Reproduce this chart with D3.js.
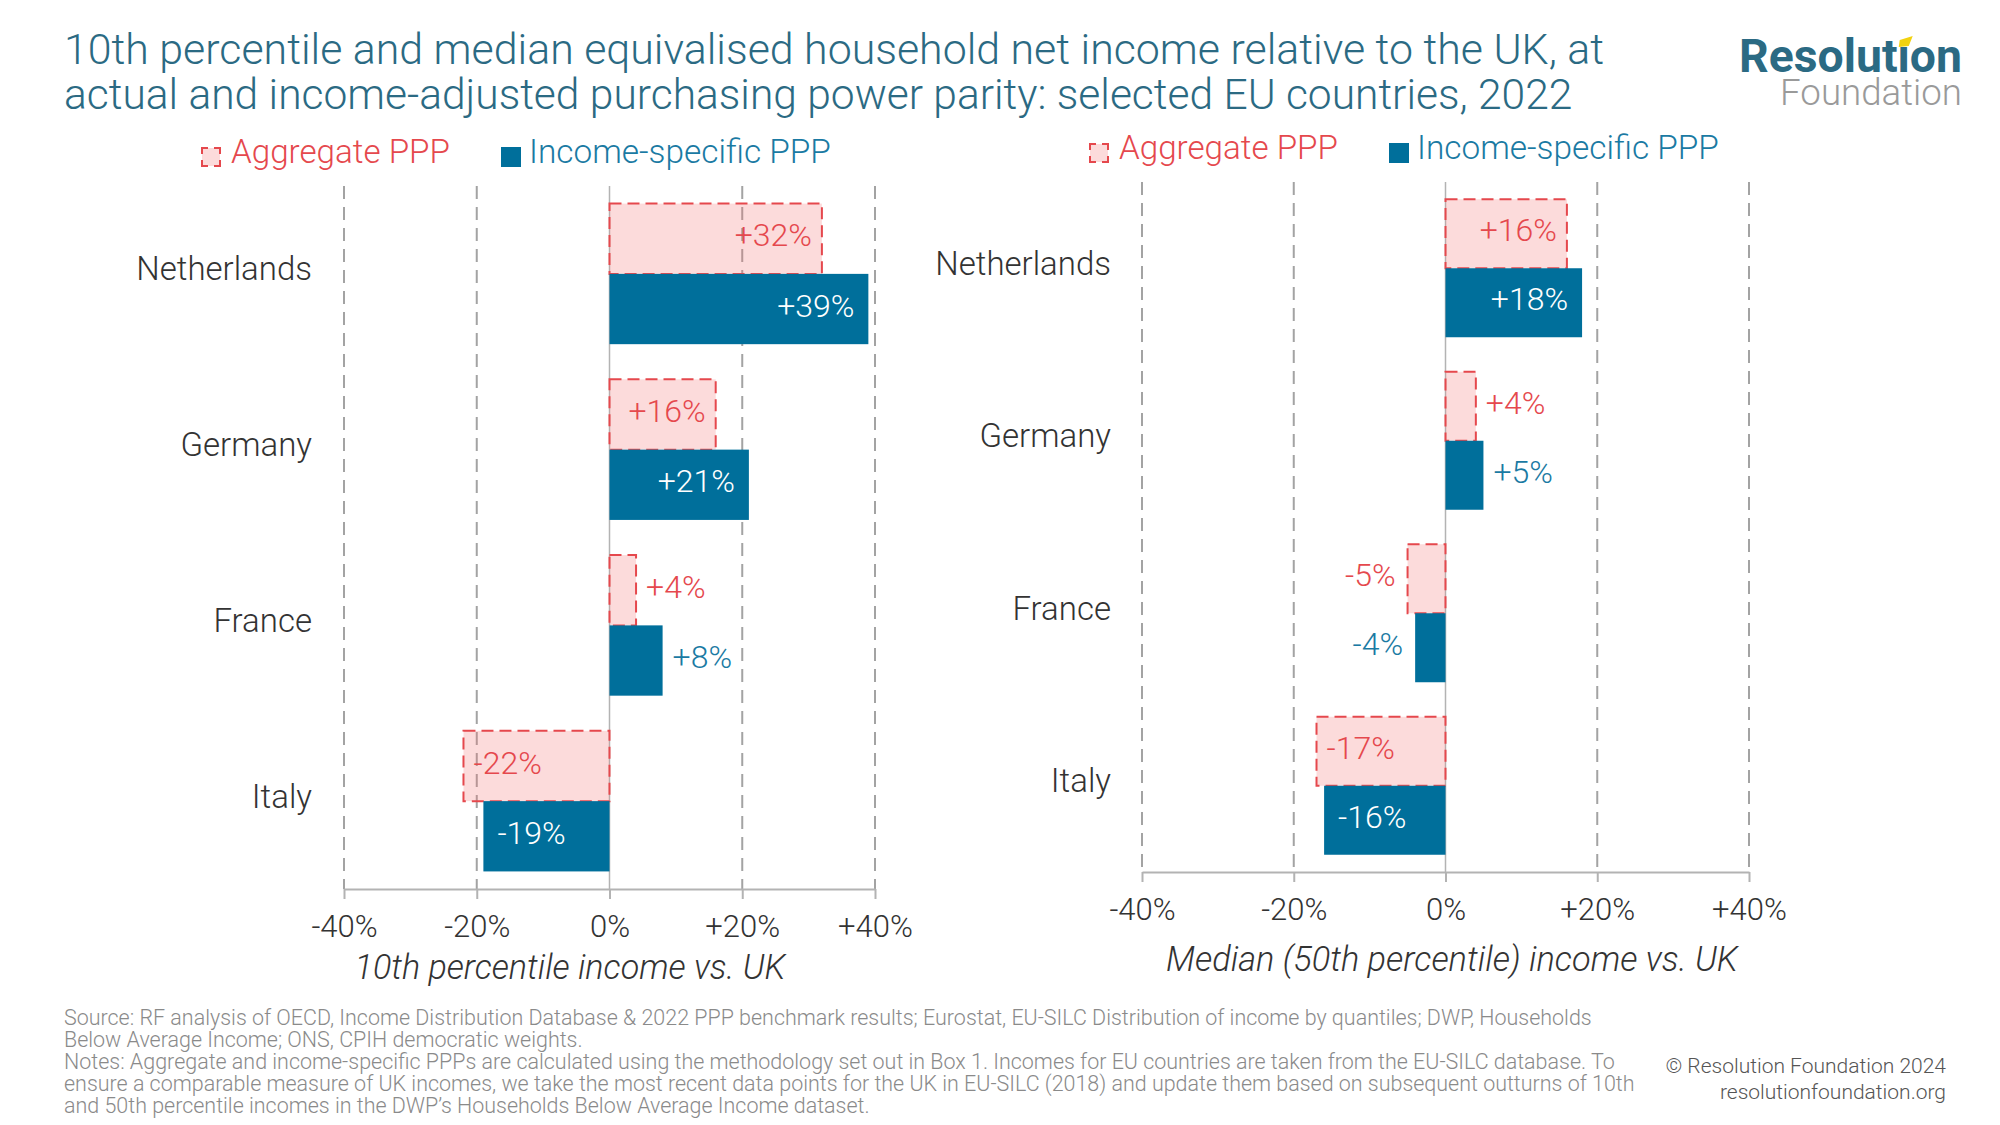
<!DOCTYPE html>
<html>
<head>
<meta charset="utf-8">
<script src="https://cdn.jsdelivr.net/npm/d3@7"></script>
<style>
  html, body { margin: 0; padding: 0; background: #fff; }
  svg { display: block; font-family: Roboto, "Noto Sans", sans-serif; }
</style>
</head>
<body>
<svg id="chart" width="2000" height="1125"></svg>
<script>
// ---------------- data ----------------
const countries = ["Netherlands", "Germany", "France", "Italy"];
const p10Aggregate = [32, 16, 4, -22];
const p10IncomeSpecific = [39, 21, 8, -19];
const p50Aggregate = [16, 4, -5, -17];
const p50IncomeSpecific = [18, 5, -4, -16];
const tickValues = [-40, -20, 0, 20, 40];
const tickLabels = ["-40%", "-20%", "0%", "+20%", "+40%"];
const seriesNames = ["Aggregate PPP", "Income-specific PPP"];
const axisTitles = ["10th percentile income vs. UK", "Median (50th percentile) income vs. UK"];
const titleLines = [
  "10th percentile and median equivalised household net income relative to the UK, at",
  "actual and income-adjusted purchasing power parity: selected EU countries, 2022"
];
const logoLines = ["Resolution", "Foundation"];
const footerLines = [
  "Source: RF analysis of OECD,  Income Distribution Database & 2022 PPP benchmark results; Eurostat, EU-SILC Distribution of income by quantiles; DWP, Households",
  "Below Average Income; ONS, CPIH democratic weights.",
  "Notes: Aggregate and income-specific PPPs are calculated using the methodology set out in Box 1. Incomes for EU countries are taken from the EU-SILC database. To",
  "ensure a comparable measure of UK incomes, we take the most recent data points for the UK in EU-SILC (2018) and update them based on subsequent outturns of 10th",
  "and 50th percentile incomes in the DWP\u2019s Households Below Average Income dataset."
];
const creditLines = ["\u00a9 Resolution Foundation 2024", "resolutionfoundation.org"];

// ---------------- styles ----------------
const C = {
  title: "#2b6a83",
  red: "#e5484d",
  pink: "rgba(243,110,110,0.25)",
  blue: "#006f9b",
  blueText: "#1a7aa3",
  grid: "#a3a3a3",
  axis: "#b3b3b3",
  text: "#333333",
  foot: "#8a8a8a",
  credit: "#555555",
  logoGrey: "#9a9a9a",
  yellow: "#f2d20f"
};

const svg = d3.select("#chart");

function fitWidth(sel, target) {
  const node = sel.node();
  const fs = parseFloat(sel.attr("font-size"));
  const w = node.getComputedTextLength();
  sel.attr("font-size", (fs * target / w).toFixed(2));
}

// ---------------- title (one text, two lines) ----------------
const titleLayout = [{ x: 64, y: 64, w: 1540 }, { x: 64, y: 109, w: 1509 }];
const titleText = svg.append("text").attr("font-weight", 300).attr("fill", C.title);
titleLines.forEach((t, i) => {
  const s = titleText.append("tspan")
    .attr("x", titleLayout[i].x).attr("y", titleLayout[i].y)
    .attr("font-size", 40).text(t);
  fitWidth(s, titleLayout[i].w);
});

// ---------------- logo (one text, two lines) ----------------
const logo = svg.append("g");
const logoText = logo.append("text").attr("text-anchor", "end");
const res = logoText.append("tspan").attr("x", 1962).attr("y", 72)
  .attr("font-size", 44).attr("font-weight", 700).attr("fill", C.title).text(logoLines[0]);
fitWidth(res, 223);
const fnd = logoText.append("tspan").attr("x", 1962).attr("y", 105)
  .attr("font-size", 34).attr("font-weight", 300).attr("fill", C.logoGrey).text(logoLines[1]);
fitWidth(fnd, 182);
(function () {
  const ext = logoText.node().getExtentOfChar(7);
  const cx = ext.x + ext.width / 2;
  logo.append("rect").attr("x", ext.x - 1).attr("y", ext.y).attr("width", ext.width + 2)
    .attr("height", 72 - 26 - ext.y).attr("fill", "#fff");
  logo.append("path")
    .attr("d", `M${cx - 5},${47} L${cx - 4},${40} L${cx + 9},${36} L${cx + 5},${46} Z`)
    .attr("fill", C.yellow);
})();

// ---------------- panels ----------------
const panels = [
  { agg: p10Aggregate, inc: p10IncomeSpecific, xr: [344, 875], yr: [186, 889],
    labelX: 312, title: axisTitles[0], titleX: 570, titleW: 431, titleY: 979, tickY: 937,
    legX: 201, legY: 147 },
  { agg: p50Aggregate, inc: p50IncomeSpecific, xr: [1142, 1749], yr: [182, 872],
    labelX: 1111, title: axisTitles[1], titleX: 1452, titleW: 572, titleY: 971, tickY: 920,
    legX: 1089, legY: 143 }
];

panels.forEach(p => {
  const g = svg.append("g");
  const x = d3.scaleLinear().domain([-40, 40]).range(p.xr);
  const y = d3.scaleBand().domain(countries).range(p.yr).paddingInner(0.2).paddingOuter(0.1);
  const sub = d3.scaleBand().domain(["agg", "inc"]).range([0, y.bandwidth()]);

  // legend
  const lg = g.append("g").attr("transform", `translate(${p.legX},${p.legY})`);
  lg.append("rect").attr("x", 1).attr("y", 1).attr("width", 18).attr("height", 18)
    .attr("fill", C.pink).attr("stroke", C.red).attr("stroke-width", 2)
    .attr("stroke-dasharray", "12 6").attr("stroke-dashoffset", 6);
  const l1 = lg.append("text").attr("x", 30).attr("y", 16).attr("font-size", 32)
    .attr("font-weight", 300).attr("fill", C.red).text(seriesNames[0]);
  fitWidth(l1, 219);
  lg.append("rect").attr("x", 300).attr("y", 0).attr("width", 20).attr("height", 20)
    .attr("fill", C.blue);
  const l2 = lg.append("text").attr("x", 328).attr("y", 16).attr("font-size", 32)
    .attr("font-weight", 300).attr("fill", C.blueText).text(seriesNames[1]);
  fitWidth(l2, 302);

  // gridlines
  g.append("g").selectAll("line").data(tickValues.filter(v => v !== 0)).join("line")
    .attr("x1", d => x(d)).attr("x2", d => x(d))
    .attr("y1", p.yr[0]).attr("y2", p.yr[1])
    .attr("stroke", C.grid).attr("stroke-width", 2).attr("stroke-dasharray", "13 8");
  // zero line
  g.append("line").attr("x1", x(0)).attr("x2", x(0)).attr("y1", p.yr[0]).attr("y2", p.yr[1])
    .attr("stroke", C.axis).attr("stroke-width", 1.5);

  // axis
  const axis = d3.axisBottom(x).tickValues(tickValues)
    .tickFormat((d, i) => tickLabels[i]).tickSize(10).tickSizeOuter(0).tickPadding(14);
  const ag = g.append("g").attr("transform", `translate(0,${p.yr[1]})`).call(axis);
  ag.select(".domain").attr("stroke", C.axis).attr("stroke-width", 2);
  ag.selectAll(".tick line").attr("stroke", C.axis).attr("stroke-width", 2);
  ag.selectAll(".tick text").attr("font-size", 31).attr("font-weight", 300).attr("fill", C.text)
    .attr("font-family", "Roboto, sans-serif").attr("dy", null)
    .attr("y", p.tickY - p.yr[1]);

  // country labels
  g.append("g").selectAll("text").data(countries).join("text")
    .attr("x", p.labelX).attr("y", d => y(d) + y.bandwidth() / 2 - 5)
    .attr("dy", "0.35em").attr("text-anchor", "end")
    .attr("font-size", 33).attr("font-weight", 300).attr("fill", C.text).text(d => d);

  // bars
  const rows = countries.map((c, i) => ({ c, agg: p.agg[i], inc: p.inc[i] }));
  g.append("g").selectAll("rect").data(rows).join("rect")
    .attr("x", d => x(Math.min(0, d.agg))).attr("width", d => Math.abs(x(d.agg) - x(0)))
    .attr("y", d => y(d.c) + sub("agg")).attr("height", sub.bandwidth())
    .attr("fill", C.pink).attr("stroke", C.red).attr("stroke-width", 2)
    .attr("stroke-dasharray", "12 6");
  g.append("g").selectAll("rect").data(rows).join("rect")
    .attr("x", d => x(Math.min(0, d.inc))).attr("width", d => Math.abs(x(d.inc) - x(0)))
    .attr("y", d => y(d.c) + sub("inc")).attr("height", sub.bandwidth())
    .attr("fill", C.blue);

  // value labels
  const fmt = v => (v > 0 ? "+" : "") + v + "%";
  const labels = [];
  rows.forEach(d => {
    labels.push({ c: d.c, key: "agg", v: d.agg });
    labels.push({ c: d.c, key: "inc", v: d.inc });
  });
  const lt = g.append("g").selectAll("text").data(labels).join("text")
    .attr("font-size", 32).attr("font-weight", 300).attr("dy", "0.3em")
    .attr("y", d => y(d.c) + sub(d.key) + sub.bandwidth() / 2 - 2)
    .text(d => fmt(d.v));
  lt.each(function (d) {
    const t = d3.select(this);
    const w = this.getComputedTextLength();
    const barW = Math.abs(x(d.v) - x(0));
    const pad = d.key === "agg" ? 10 : 14;
    const inside = barW > w + 2 * pad;
    const pos = d.v >= 0;
    let xx, anchor;
    if (inside) {
      xx = pos ? x(d.v) - pad : x(d.v) + pad;
      anchor = pos ? "end" : "start";
    } else {
      xx = pos ? x(d.v) + 10 : x(d.v) - 12;
      anchor = pos ? "start" : "end";
    }
    t.attr("x", xx).attr("text-anchor", anchor)
      .attr("fill", d.key === "agg" ? C.red : (inside ? "#ffffff" : C.blueText));
  });

  // axis title
  const at = g.append("text").attr("x", p.titleX).attr("y", p.titleY).attr("text-anchor", "middle")
    .attr("font-size", 31).attr("font-weight", 300).attr("font-style", "italic")
    .attr("fill", C.text).text(p.title);
  fitWidth(at, p.titleW);
});

// ---------------- footer ----------------
const footY = [1025, 1047, 1069, 1091, 1113];
const f0 = svg.append("text").attr("x", 64).attr("y", footY[0]).attr("font-size", 20)
  .attr("font-weight", 300).attr("fill", C.foot).text(footerLines[0]);
fitWidth(f0, 1528);
const footSize = f0.attr("font-size");
footerLines.slice(1).forEach((t, i) => {
  svg.append("text").attr("x", 64).attr("y", footY[i + 1]).attr("font-size", footSize)
    .attr("font-weight", 300).attr("fill", C.foot).text(t);
});
const creditY = [1073, 1099];
creditLines.forEach((t, i) => {
  svg.append("text").attr("x", 1946).attr("y", creditY[i]).attr("text-anchor", "end")
    .attr("font-size", 21).attr("font-weight", 300).attr("fill", C.credit).text(t);
});
</script>
</body>
</html>
